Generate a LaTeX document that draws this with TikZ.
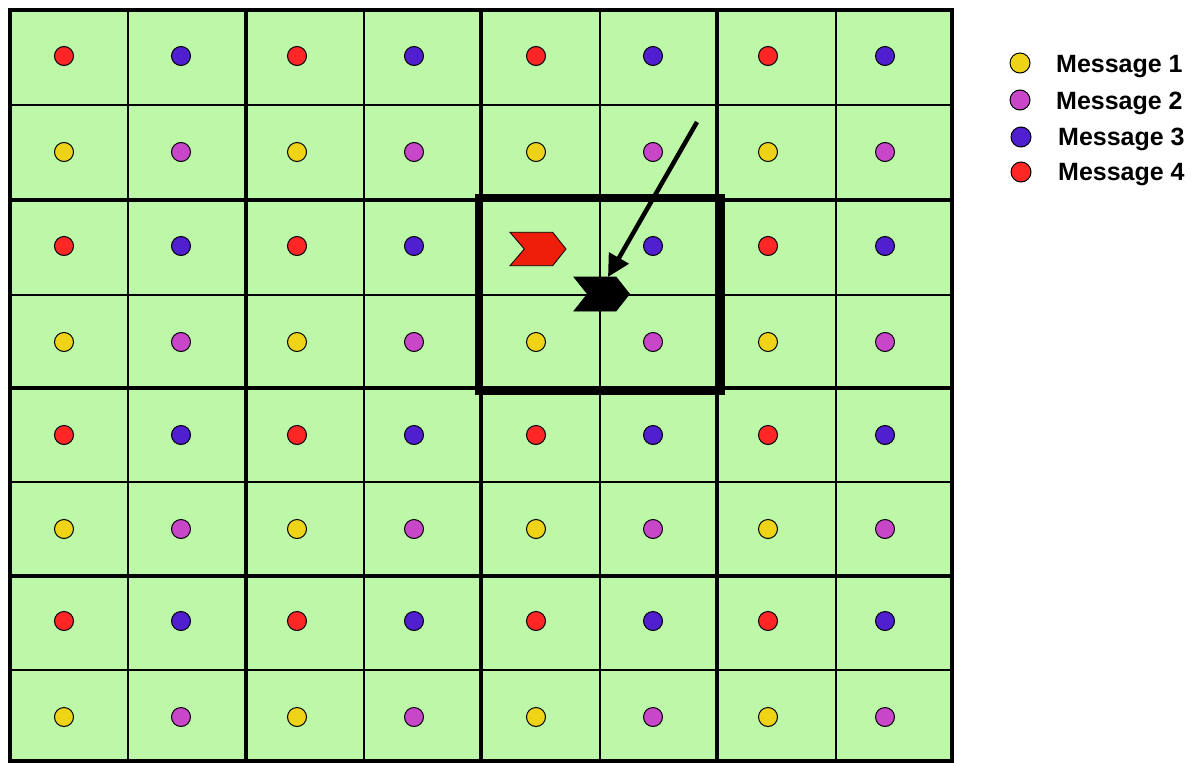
\documentclass[tikz,border=0pt]{standalone}
\usepackage{fontspec}
\setmainfont{Liberation Sans}
\usetikzlibrary{arrows.meta}
\definecolor{cellgreen}{HTML}{BDF7A8}
\definecolor{mred}{HTML}{FF2626}
\definecolor{mblue}{HTML}{5020D0}
\definecolor{myellow}{HTML}{EED317}
\definecolor{mmagenta}{HTML}{C847C8}
\definecolor{chevred}{HTML}{EE1E0A}
\begin{document}
\begin{tikzpicture}[x=1pt,y=-1pt,
  dot/.style={circle,draw=black,line width=1pt,minimum size=19pt,inner sep=0pt},
  legdot/.style={circle,draw=black,line width=1pt,minimum size=20pt,inner sep=0pt},
  thingrid/.style={line width=2pt},
  thickgrid/.style={line width=4pt},
  frame/.style={line width=4pt},
  focusbox/.style={line width=8pt},
  chevron/.style={draw=black,line width=0.8pt},
  legtext/.style={anchor=base west,inner sep=0pt,font=\fontsize{25}{29}\selectfont\bfseries}]
\useasboundingbox (0,0) rectangle (1192,763);
% cells
\fill[cellgreen] (10,10) rectangle (952,761);
% thin grid lines
\foreach \x in {128,364,600,836} \draw[thingrid] (\x,10) -- (\x,761);
\foreach \y in {105,295,482,670} \draw[thingrid] (10,\y) -- (952,\y);
% thick grid lines
\foreach \x in {246,481,717} \draw[thickgrid] (\x,10) -- (\x,761);
\foreach \y in {200,388,576} \draw[thickgrid] (10,\y) -- (952,\y);
\draw[frame] (10,10) rectangle (952,761);
% dots
\foreach \y/\ca/\cb [count=\r] in {56/mred/mblue,152/myellow/mmagenta,246/mred/mblue,342/myellow/mmagenta,435/mred/mblue,529/myellow/mmagenta,621/mred/mblue,717/myellow/mmagenta} {
  \foreach \x [count=\c] in {64,181,297,414,536,653,768,885} {
    \ifodd\c \edef\col{\ca}\else\edef\col{\cb}\fi
    \ifnum\numexpr\r*10+\c\relax=35 \else
      \node[dot,fill=\col] (d-\r-\c) at (\x,\y) {};
    \fi
  }
}
% focus box
\draw[focusbox] (479,197.5) rectangle (721,391);
% chevrons
\coordinate (redchev) at (538,249);
\coordinate (blackchev) at (602,294);
\coordinate (blackchevtop) at (608,277);
\coordinate (arrowstart) at (697,122);
\fill[chevred,chevron] ([shift={(-28,-16.7)}]redchev) -- ++(42.7,0) -- ++(13.3,16.7) -- ++(-13.3,16.7) -- ++(-42.7,0) -- ++(14.3,-16.7) -- cycle;
\fill[black,chevron] ([shift={(-28,-17)}]blackchev) -- ++(42,0) -- ++(13.5,17) -- ++(-13.5,17) -- ++(-42,0) -- ++(13.5,-17) -- cycle;
\draw[line width=4.5pt,-{Triangle[length=22pt,width=22pt]}] (arrowstart) -- (blackchevtop);
% legend
\node[legdot,fill=myellow] (l1) at (1020,63) {};
\node[legdot,fill=mmagenta] (l2) at (1020,100) {};
\node[legdot,fill=mblue] (l3) at (1021,137) {};
\node[legdot,fill=mred] (l4) at (1021,172) {};
\node[legtext] (t1) at (1056,72) {Message 1};
\node[legtext] (t2) at (1056,109) {Message 2};
\node[legtext] (t3) at (1058,145) {Message 3};
\node[legtext] (t4) at (1058,180) {Message 4};
\end{tikzpicture}
\end{document}
